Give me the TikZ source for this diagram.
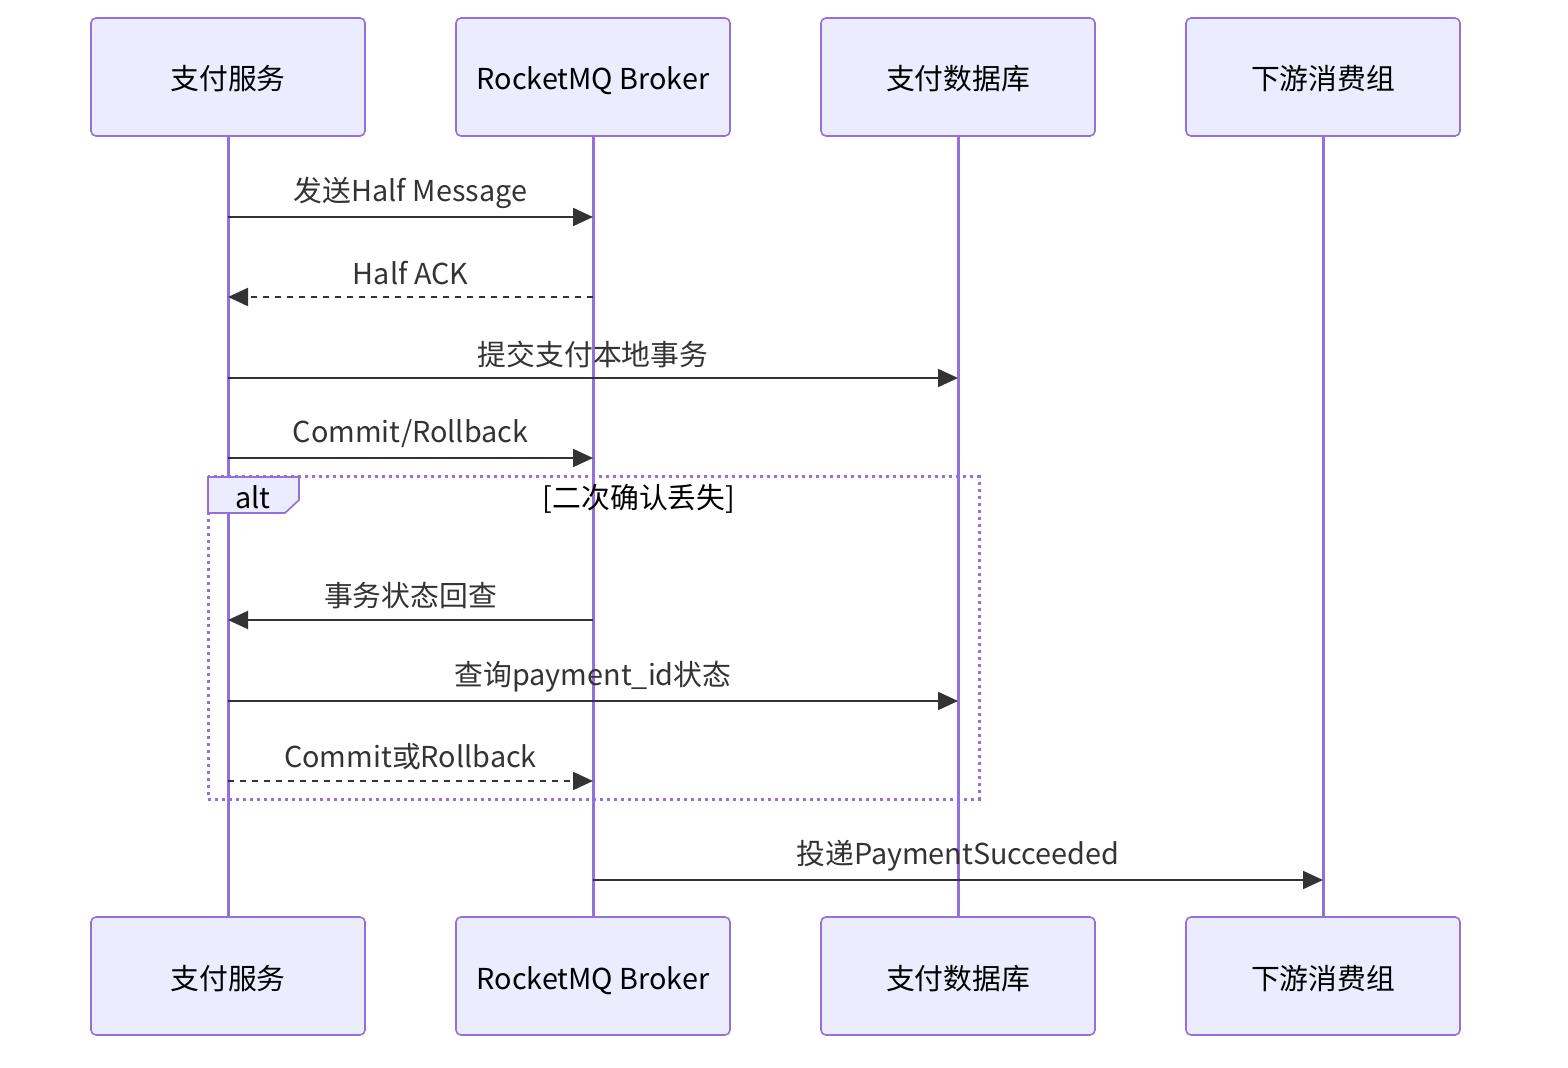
\documentclass[tikz,border=0pt]{standalone}
\usepackage{fontspec}
\setmainfont{Noto Sans CJK SC}
\usetikzlibrary{calc}
\usetikzlibrary{arrows.meta}
\definecolor{boxfill}{HTML}{ECECFF}
\definecolor{boxline}{HTML}{9370DB}
\definecolor{msgline}{HTML}{333333}
\tikzset{
  actor/.style={draw=boxline, fill=boxfill, line width=0.8pt, rounded corners=2.5pt,
    minimum width=137pt, minimum height=59pt, inner sep=0pt, text height=15pt, text depth=2pt,
    font=\fontsize{14.4}{17}\selectfont, text=black},
  life/.style={draw=boxline, line width=1.5pt},
  msg/.style={draw=msgline, line width=1pt, -{Triangle[length=10pt,width=9pt]}},
  reply/.style={msg, dash pattern=on 3pt off 3pt},
  lbl/.style={midway, yshift=12pt, inner sep=0pt, text=msgline, font=\fontsize{14.4}{17}\selectfont},
  altline/.style={draw=boxline, line width=1.5pt, dash pattern=on 1.5pt off 2pt},
  alttab/.style={draw=boxline, fill=boxfill, line width=0.8pt},
}

\begin{document}
\begin{tikzpicture} [x=0.5pt, y=-0.5pt]
\useasboundingbox (0,0) rectangle (1568,1068);

% participants, top and bottom
\foreach \n/\x/\t in {pay/228/支付服务, mq/593/RocketMQ Broker, db/958/支付数据库, cons/1323/下游消费组} {
 \node[actor] (\n) at (\x,77) {\t};
 \node[actor] (\n-b) at (\x,976) {\t};
}
\foreach \n in {pay,mq,db,cons} \draw[life] (\n.south) -- (\n-b.north);

% message rows
\foreach \i/\y in {1/217,2/297,3/378,4/458,5/620,6/701,7/781,8/880} {
 \foreach \n/\x in {pay/228,mq/593,db/958,cons/1323} \coordinate (\n\i) at (\x,\y);
}

% alt frame
\draw[altline] (208,477) rectangle (979,799);
\draw[alttab] (208,477) -- (299,477) -- (299,500) -- (285,513) -- (208,513) -- cycle;
\node[font=\fontsize{14.4}{17}\selectfont, text=black] (alt) at (253,497) {alt};
\node[font=\fontsize{14.4}{17}\selectfont, text=black] (cond) at (639,499) {[二次确认丢失]};

\draw[msg] (pay1) -- node[lbl] {发送Half Message} (mq1);
\draw[reply] (mq2) -- node[lbl] {Half ACK} (pay2);
\draw[msg] (pay3) -- node[lbl] {提交支付本地事务} (db3);
\draw[msg] (pay4) -- node[lbl] {Commit/Rollback} (mq4);
\draw[msg] (mq5) -- node[lbl] {事务状态回查} (pay5);
\draw[msg] (pay6) -- node[lbl] {查询payment\_id状态} (db6);
\draw[reply] (pay7) -- node[lbl] {Commit或Rollback} (mq7);
\draw[msg] (mq8) -- node[lbl] {投递PaymentSucceeded} (cons8);

\end{tikzpicture}
\end{document}
